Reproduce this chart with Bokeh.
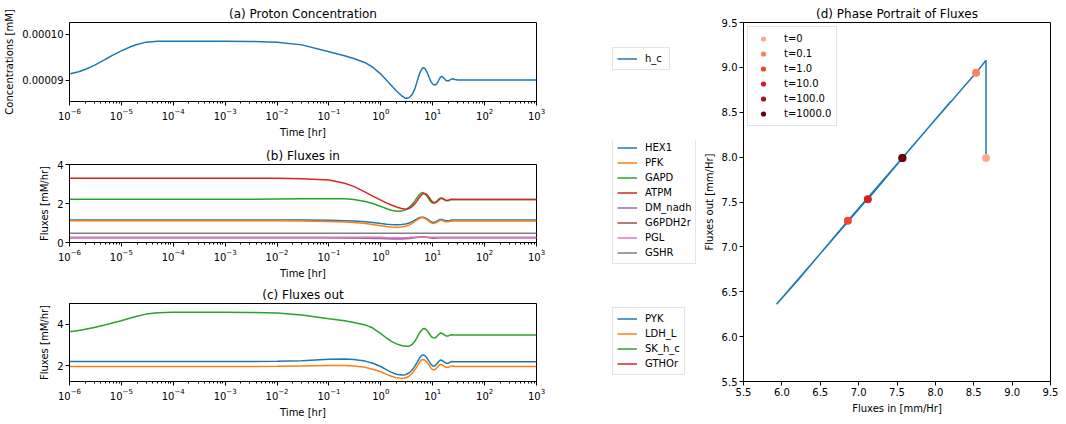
from bokeh.plotting import figure
from bokeh.layouts import row, column
from bokeh.models import Range1d, FixedTicker, NumeralTickFormatter, Legend, LegendItem
from bokeh.embed import file_html
from bokeh.resources import INLINE

# ---------------- data ----------------
t_hr = [1e-6, 1.5e-6, 2e-6, 3e-6, 5e-6, 7e-6, 1e-5, 1.5e-5, 2e-5, 3e-5, 5e-5, 1e-4,
        1e-3, 3e-3, 1e-2, 3e-2,
        0.1, 0.2, 0.3, 0.5, 0.7, 1.0,
        1.3, 1.6, 2.0, 2.5, 3.0, 3.5, 4.0, 4.5,
        5.0, 5.5, 6.0, 6.5, 7.0, 7.7, 8.5,
        9.3, 10.0, 11.0, 12.0, 13.0, 14.0, 15.0, 16.5,
        18.0, 20.0, 22.0, 24.0, 27.0, 30.0, 100.0, 1000.0]

h_c = [9.13e-5, 9.18e-5, 9.23e-5, 9.32e-5, 9.46e-5, 9.55e-5, 9.64e-5, 9.73e-5, 9.78e-5, 9.83e-5, 9.85e-5, 9.85e-5,
       9.85e-5, 9.845e-5, 9.83e-5, 9.77e-5,
       9.62e-5, 9.53e-5, 9.47e-5, 9.38e-5, 9.28e-5, 9.13e-5,
       8.99e-5, 8.88e-5, 8.76e-5, 8.66e-5, 8.60e-5, 8.61e-5, 8.68e-5, 8.80e-5,
       8.97e-5, 9.12e-5, 9.22e-5, 9.27e-5, 9.26e-5, 9.18e-5, 9.06e-5,
       8.96e-5, 8.91e-5, 8.89e-5, 8.92e-5, 8.99e-5, 9.06e-5, 9.08e-5, 9.04e-5,
       8.99e-5, 8.98e-5, 9.01e-5, 9.03e-5, 9.01e-5, 9.00e-5, 9.00e-5, 9.00e-5]

HEX1 = [1.16, 1.16, 1.16, 1.16, 1.16, 1.16, 1.16, 1.16, 1.16, 1.16, 1.16, 1.16,
        1.16, 1.16, 1.16, 1.15,
        1.14, 1.12, 1.10, 1.06, 1.02, 0.97,
        0.94, 0.92, 0.91, 0.92, 0.95, 1.00, 1.07, 1.14,
        1.21, 1.27, 1.30, 1.30, 1.27, 1.21, 1.13,
        1.06, 1.03, 1.04, 1.09, 1.15, 1.18, 1.18, 1.14,
        1.11, 1.11, 1.14, 1.15, 1.15, 1.15, 1.15, 1.15]
PFK = [1.11, 1.11, 1.11, 1.11, 1.11, 1.11, 1.11, 1.11, 1.11, 1.11, 1.11, 1.11,
       1.11, 1.11, 1.11, 1.10,
       1.08, 1.05, 1.02, 0.97, 0.92, 0.86,
       0.82, 0.80, 0.78, 0.79, 0.83, 0.89, 0.98, 1.07,
       1.16, 1.23, 1.27, 1.27, 1.24, 1.17, 1.08,
       1.01, 0.98, 0.99, 1.04, 1.10, 1.14, 1.14, 1.09,
       1.06, 1.06, 1.09, 1.10, 1.10, 1.10, 1.10, 1.10]
GAPD = [2.22, 2.22, 2.22, 2.22, 2.22, 2.22, 2.22, 2.22, 2.22, 2.22, 2.22, 2.22,
        2.22, 2.22, 2.23, 2.24,
        2.25, 2.24, 2.21, 2.10, 2.00, 1.85,
        1.73, 1.65, 1.60, 1.61, 1.68, 1.80, 1.95, 2.12,
        2.30, 2.45, 2.54, 2.56, 2.50, 2.38, 2.22,
        2.08, 2.02, 2.03, 2.12, 2.22, 2.28, 2.27, 2.20,
        2.15, 2.16, 2.21, 2.21, 2.20, 2.20, 2.20, 2.20]
ATPM = [3.30, 3.30, 3.30, 3.30, 3.30, 3.30, 3.30, 3.30, 3.30, 3.30, 3.30, 3.30,
        3.30, 3.30, 3.29, 3.27,
        3.20, 3.04, 2.88, 2.58, 2.38, 2.17,
        2.02, 1.92, 1.82, 1.74, 1.71, 1.74, 1.84, 1.98,
        2.14, 2.30, 2.42, 2.50, 2.52, 2.46, 2.32,
        2.17, 2.08, 2.04, 2.08, 2.17, 2.25, 2.27, 2.22,
        2.16, 2.15, 2.20, 2.22, 2.20, 2.20, 2.20, 2.20]
DM_nadh = [0.24, 0.24, 0.24, 0.24, 0.24, 0.24, 0.24, 0.24, 0.24, 0.24, 0.24, 0.24,
           0.24, 0.24, 0.24, 0.24,
           0.24, 0.235, 0.23, 0.22, 0.21, 0.20,
           0.19, 0.185, 0.18, 0.18, 0.19, 0.20, 0.22, 0.24,
           0.26, 0.28, 0.29, 0.29, 0.28, 0.27, 0.25,
           0.23, 0.22, 0.22, 0.23, 0.24, 0.25, 0.25, 0.245,
           0.24, 0.24, 0.24, 0.24, 0.24, 0.24, 0.24, 0.24]
G6PDH2r = [0.26, 0.26, 0.26, 0.26, 0.26, 0.26, 0.26, 0.26, 0.26, 0.26, 0.26, 0.26,
           0.26, 0.26, 0.26, 0.26,
           0.26, 0.26, 0.26, 0.26, 0.26, 0.255,
           0.25, 0.25, 0.25, 0.25, 0.25, 0.255, 0.26, 0.265,
           0.27, 0.27, 0.27, 0.27, 0.27, 0.265, 0.26,
           0.26, 0.26, 0.26, 0.26, 0.26, 0.26, 0.26, 0.26,
           0.26, 0.26, 0.26, 0.26, 0.26, 0.26, 0.26, 0.26]
PGL = [0.26, 0.26, 0.26, 0.26, 0.26, 0.26, 0.26, 0.26, 0.26, 0.26, 0.26, 0.26,
       0.26, 0.26, 0.26, 0.26,
       0.26, 0.26, 0.26, 0.26, 0.26, 0.255,
       0.25, 0.25, 0.25, 0.25, 0.25, 0.255, 0.26, 0.265,
       0.27, 0.27, 0.27, 0.27, 0.27, 0.265, 0.26,
       0.26, 0.26, 0.26, 0.26, 0.26, 0.26, 0.26, 0.26,
       0.26, 0.26, 0.26, 0.26, 0.26, 0.26, 0.26, 0.26]
GSHR = [0.48, 0.48, 0.48, 0.48, 0.48, 0.48, 0.48, 0.48, 0.48, 0.48, 0.48, 0.48,
        0.48, 0.48, 0.48, 0.48,
        0.48, 0.48, 0.48, 0.48, 0.48, 0.48,
        0.48, 0.48, 0.48, 0.48, 0.48, 0.48, 0.48, 0.48,
        0.48, 0.48, 0.48, 0.48, 0.48, 0.48, 0.48,
        0.48, 0.48, 0.48, 0.48, 0.48, 0.48, 0.48, 0.48,
        0.48, 0.48, 0.48, 0.48, 0.48, 0.48, 0.48, 0.48]

PYK = [2.21, 2.21, 2.21, 2.21, 2.21, 2.21, 2.21, 2.21, 2.21, 2.21, 2.21, 2.21,
       2.21, 2.21, 2.22, 2.25,
       2.32, 2.33, 2.31, 2.23, 2.13, 1.97,
       1.81, 1.69, 1.60, 1.56, 1.58, 1.66, 1.80, 1.98,
       2.17, 2.36, 2.49, 2.53, 2.50, 2.39, 2.22,
       2.07, 2.00, 2.00, 2.10, 2.21, 2.28, 2.27, 2.19,
       2.13, 2.13, 2.19, 2.21, 2.20, 2.20, 2.20, 2.20]
LDH_L = [1.97, 1.97, 1.97, 1.97, 1.97, 1.97, 1.97, 1.97, 1.97, 1.97, 1.97, 1.97,
         1.97, 1.97, 1.98, 2.00,
         2.02, 2.02, 2.00, 1.93, 1.84, 1.72,
         1.59, 1.50, 1.43, 1.40, 1.42, 1.50, 1.63, 1.80,
         1.98, 2.15, 2.27, 2.31, 2.28, 2.18, 2.03,
         1.89, 1.82, 1.82, 1.91, 2.01, 2.07, 2.06, 1.99,
         1.93, 1.93, 1.98, 1.99, 1.97, 1.97, 1.97, 1.97]
SK_h_c = [3.64, 3.70, 3.76, 3.85, 3.98, 4.07, 4.17, 4.30, 4.39, 4.49, 4.55, 4.58,
          4.58, 4.57, 4.54, 4.45,
          4.27, 4.17, 4.09, 3.97, 3.82, 3.55,
          3.33, 3.18, 3.06, 2.98, 2.94, 2.95, 3.03, 3.17,
          3.37, 3.56, 3.70, 3.79, 3.80, 3.72, 3.57,
          3.42, 3.36, 3.34, 3.41, 3.51, 3.58, 3.57, 3.50,
          3.44, 3.44, 3.49, 3.50, 3.48, 3.48, 3.48, 3.48]
GTHOr = [0.45, 0.45, 0.45, 0.45, 0.45, 0.45, 0.45, 0.45, 0.45, 0.45, 0.45, 0.45,
         0.45, 0.45, 0.45, 0.45,
         0.45, 0.45, 0.45, 0.45, 0.45, 0.45,
         0.45, 0.45, 0.45, 0.45, 0.45, 0.45, 0.45, 0.45,
         0.45, 0.45, 0.45, 0.45, 0.45, 0.45, 0.45,
         0.45, 0.45, 0.45, 0.45, 0.45, 0.45, 0.45, 0.45,
         0.45, 0.45, 0.45, 0.45, 0.45, 0.45, 0.45, 0.45]

flux_in_path = [8.66, 8.66, 8.53, 7.80, 6.86, 6.20, 5.93, 6.90, 8.20, 7.60, 7.12, 7.70, 7.45, 7.60, 7.57, 7.57]
flux_out_path = [7.99, 9.08, 8.94, 8.22, 7.29, 6.62, 6.36, 7.32, 8.62, 8.02, 7.53, 8.12, 7.87, 8.02, 7.99, 7.99]

pt_labels = ["t=0", "t=0.1", "t=1.0", "t=10.0", "t=100.0", "t=1000.0"]
pt_in = [8.66, 8.53, 6.86, 7.12, 7.57, 7.57]
pt_out = [7.99, 8.94, 7.29, 7.53, 7.99, 7.99]
pt_colors = ["#fcab8f", "#fc8161", "#f14432", "#d32020", "#ac1117", "#67000d"]

in_names = ["HEX1", "PFK", "GAPD", "ATPM", "DM_nadh", "G6PDH2r", "PGL", "GSHR"]
in_values = [HEX1, PFK, GAPD, ATPM, DM_nadh, G6PDH2r, PGL, GSHR]
out_names = ["PYK", "LDH_L", "SK_h_c", "GTHOr"]
out_values = [PYK, LDH_L, SK_h_c, GTHOr]

TAB10 = ["#1f77b4", "#ff7f0e", "#2ca02c", "#d62728", "#9467bd", "#8c564b", "#e377c2", "#7f7f7f"]
FONT = "DejaVu Sans"


def style(p, log_x):
    p.title.text_font = FONT
    p.title.text_font_size = "12px"
    p.title.text_font_style = "normal"
    p.title.align = "center"
    p.title.text_color = "black"
    p.title.standoff = 4
    p.outline_line_color = "black"
    p.outline_line_width = 1
    p.outline_line_alpha = 1
    p.grid.visible = False
    p.background_fill_color = "white"
    p.border_fill_color = "white"
    for ax in p.xaxis + p.yaxis:
        ax.axis_label_text_font = FONT
        ax.axis_label_text_font_size = "10px"
        ax.axis_label_text_font_style = "normal"
        ax.axis_label_text_color = "black"
        ax.major_label_text_font = FONT
        ax.major_label_text_font_size = "10px"
        ax.major_label_text_color = "black"
        ax.axis_line_color = "black"
        ax.major_tick_line_color = "black"
        ax.major_tick_in = 0
        ax.major_tick_out = 4
        ax.major_label_standoff = 2
        ax.axis_label_standoff = 4
        ax.minor_tick_line_color = None
    if log_x:
        p.xaxis.minor_tick_line_color = "black"
        p.xaxis.minor_tick_in = 0
        p.xaxis.minor_tick_out = 2


def legend_style(lg):
    lg.label_text_font = FONT
    lg.label_text_font_size = "10px"
    lg.label_text_color = "black"
    lg.glyph_width = 20
    lg.glyph_height = 13
    lg.label_height = 13
    lg.label_standoff = 8
    lg.spacing = 2
    lg.padding = 4
    lg.margin = 0
    lg.border_line_color = "#cccccc"
    lg.border_line_width = 1
    lg.background_fill_alpha = 0.8


def time_fig(title, h, top, bottom, ylab, y0, y1):
    p = figure(width=600, height=h, x_axis_type="log",
               x_range=Range1d(1e-6, 1e3), y_range=Range1d(y0, y1),
               min_border_left=69, min_border_right=64, min_border_top=top,
               min_border_bottom=bottom, title=title, output_backend="svg",
               toolbar_location=None)
    p.xaxis.axis_label = "Time [hr]"
    p.yaxis.axis_label = ylab
    style(p, True)
    return p


def legend_fig(h, names, series, colors, loc):
    # a bare panel that only carries the legend of the panel to its left;
    # its view window lies outside all data, so only the legend shows
    p = figure(width=100, height=h, x_range=Range1d(0, 1), y_range=Range1d(-2, -1),
               x_axis_location=None, y_axis_location=None, min_border=0,
               output_backend="svg", toolbar_location=None)
    p.outline_line_color = None
    p.grid.visible = False
    items = []
    for nm, vals, c in zip(names, series, colors):
        r = p.line(t_hr, vals, line_color=c, line_width=1.5)
        items.append(LegendItem(label=nm, renderers=[r]))
    lg = Legend(items=items, location=loc)
    legend_style(lg)
    p.add_layout(lg)
    return p


# (a)
fa = time_fig("(a) Proton Concentration", 140, 22, 39, "Concentrations [mM]", 8.53e-5, 10.26e-5)
fa.line(t_hr, h_c, line_color=TAB10[0], line_width=1.5)
fa.yaxis.ticker = FixedTicker(ticks=[9e-5, 1e-4])
fa.yaxis.formatter = NumeralTickFormatter(format="0.00000")
la = legend_fig(140, ["h_c"], [h_c], TAB10[:1], (12, 70))

# (b)
fb = time_fig("(b) Fluxes in", 141, 24, 39, "Fluxes [mM/hr]", 0, 4)
for i, vals in enumerate(in_values):
    fb.line(t_hr, vals, line_color=TAB10[i], line_width=1.5)
fb.yaxis.ticker = FixedTicker(ticks=[0, 2, 4])
lb = legend_fig(141, in_names, in_values, TAB10[:len(in_names)], (12, 17))

# (c)
fc = time_fig("(c) Fluxes out", 143, 22, 43, "Fluxes [mM/hr]", 1.25, 5.0)
for i, vals in enumerate(out_values):
    fc.line(t_hr, vals, line_color=TAB10[i], line_width=1.5)
fc.yaxis.ticker = FixedTicker(ticks=[2, 4])
lc = legend_fig(143, out_names, out_values, TAB10[:len(out_names)], (12, 49))

# (d)
fd = figure(width=366, height=424, x_range=Range1d(5.5, 9.5), y_range=Range1d(5.5, 9.5),
            min_border_left=41, min_border_right=16, min_border_top=22, min_border_bottom=43,
            title="(d) Phase Portrait of Fluxes", output_backend="svg", toolbar_location=None)
style(fd, False)
fd.xaxis.axis_label = "Fluxes in [mm/Hr]"
fd.yaxis.axis_label = "Fluxes out [mm/Hr]"
ticks_d = [5.5, 6.0, 6.5, 7.0, 7.5, 8.0, 8.5, 9.0, 9.5]
fd.xaxis.ticker = FixedTicker(ticks=ticks_d)
fd.yaxis.ticker = FixedTicker(ticks=ticks_d)
fd.xaxis.formatter = NumeralTickFormatter(format="0.0")
fd.yaxis.formatter = NumeralTickFormatter(format="0.0")
fd.line(flux_in_path, flux_out_path, line_color=TAB10[0], line_width=1.5)
items_d = []
for lab, xi, yo, c in zip(pt_labels, pt_in, pt_out, pt_colors):
    r = fd.scatter([xi], [yo], size=8, fill_color=c, line_color=c, line_width=0)
    items_d.append(LegendItem(label=lab, renderers=[r]))
lgd = Legend(items=items_d, location="top_left")
legend_style(lgd)
lgd.margin = 4
lgd.padding = 5
lgd.label_standoff = 11
fd.add_layout(lgd)

layout = row(column(fa, fb, fc), column(la, lb, lc), fd)
open("out.html", "w").write(file_html(layout, INLINE))
